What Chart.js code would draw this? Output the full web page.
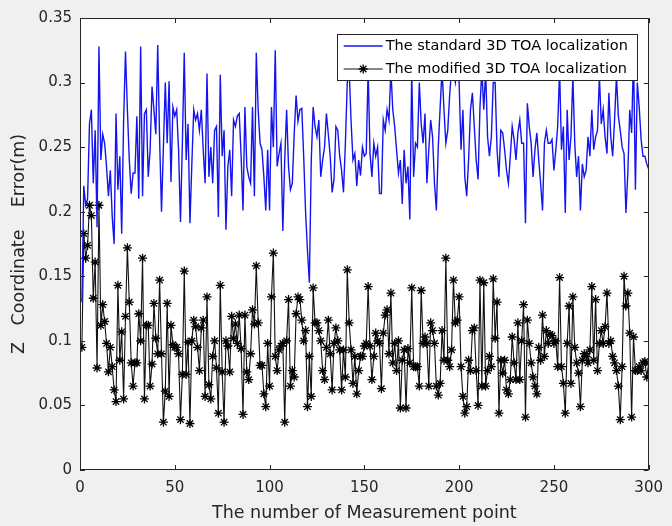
<!DOCTYPE html>
<html>
<head>
<meta charset="utf-8">
<script src="https://cdn.jsdelivr.net/npm/chart.js@4.4.1/dist/chart.umd.min.js"></script>
<style>
  html, body { margin: 0; padding: 0; background: #f0f0f0; }
  canvas { display: block; }
</style>
</head>
<body>
<canvas id="c" width="672" height="526"></canvas>
<script>
// ---------- data ----------
const seriesNames = ['The standard 3D TOA localization', 'The modified 3D TOA localization'];
const xTitle = 'The number of Measurement point';
const yTitle = 'Z   Coordinate    Error(m)';
const xTickValues = [0, 50, 100, 150, 200, 250, 300];
const yTickValues = [0, 0.05, 0.1, 0.15, 0.2, 0.25, 0.3, 0.35];

const standardErr = [
  0.13, 0.22, 0.205, 0.21, 0.268, 0.279, 0.222, 0.263, 0.188, 0.328, 0.24, 0.26, 0.253, 0.235, 0.212, 0.232, 0.196, 0.175, 0.276, 0.217,
  0.243, 0.183, 0.27, 0.324, 0.279, 0.24, 0.214, 0.23, 0.23, 0.274, 0.21, 0.328, 0.212, 0.276, 0.279, 0.227, 0.248, 0.297, 0.279, 0.26,
  0.329, 0.256, 0.2, 0.25, 0.3,
  0.253, 0.301, 0.223, 0.281, 0.274, 0.279, 0.248, 0.192, 0.253, 0.323, 0.24, 0.268, 0.191, 0.237, 0.279, 0.271, 0.276, 0.263, 0.279, 0.248,
  0.222, 0.307, 0.227, 0.25, 0.222, 0.263, 0.266, 0.196, 0.306, 0.243, 0.263, 0.186, 0.235, 0.248, 0.212, 0.271, 0.266, 0.274, 0.276, 0.243,
  0.201, 0.281, 0.235, 0.227, 0.222, 0.281, 0.212, 0.323, 0.279, 0.253, 0.248, 0.227, 0.201, 0.248, 0.201,
  0.281, 0.25, 0.325, 0.235, 0.245, 0.253, 0.185, 0.24, 0.279, 0.235, 0.217, 0.222, 0.26, 0.29, 0.27, 0.279, 0.28, 0.243, 0.2, 0.17,
  0.145, 0.24, 0.281, 0.266, 0.258, 0.271, 0.227, 0.24, 0.25, 0.276, 0.26, 0.243, 0.215, 0.225, 0.266, 0.263, 0.243, 0.232, 0.215, 0.253,
  0.3, 0.31, 0.27, 0.24, 0.245, 0.22, 0.24, 0.228, 0.25,
  0.243, 0.245, 0.31, 0.245, 0.227, 0.253, 0.243, 0.25, 0.214, 0.214, 0.271, 0.263, 0.279, 0.271, 0.31, 0.279, 0.266, 0.248, 0.23, 0.24,
  0.206, 0.248, 0.222, 0.235, 0.194, 0.31, 0.227, 0.253, 0.25, 0.3, 0.268, 0.253, 0.276, 0.222, 0.248, 0.271, 0.258, 0.222, 0.201, 0.25,
  0.281, 0.31, 0.279, 0.253, 0.263, 0.29, 0.31, 0.31, 0.3,
  0.31, 0.3, 0.248, 0.279, 0.227, 0.212, 0.24, 0.279, 0.292, 0.266, 0.24, 0.225, 0.281, 0.31, 0.279, 0.31, 0.258, 0.243, 0.258, 0.3,
  0.3, 0.248, 0.227, 0.263, 0.261, 0.248, 0.232, 0.222, 0.243, 0.266, 0.256, 0.24, 0.261, 0.271, 0.253, 0.253, 0.191, 0.284, 0.266, 0.253,
  0.227, 0.248, 0.261, 0.24, 0.222, 0.201, 0.253, 0.263, 0.253, 0.253,
  0.256, 0.232, 0.248, 0.266, 0.31, 0.248, 0.266, 0.199, 0.279, 0.24, 0.258, 0.305, 0.253, 0.227, 0.243, 0.201, 0.237, 0.227, 0.232, 0.258,
  0.243, 0.279, 0.248, 0.258, 0.263, 0.305, 0.268, 0.279, 0.258, 0.245, 0.292, 0.258, 0.243, 0.271, 0.305,
  0.274, 0.263, 0.25, 0.245, 0.199, 0.23, 0.279, 0.261, 0.322, 0.217, 0.3, 0.281, 0.256, 0.243, 0.243, 0.237, 0.233
];

const modifiedErr = [
  0.095, 0.183, 0.164, 0.174, 0.205, 0.197, 0.133, 0.161, 0.079, 0.205, 0.112, 0.128, 0.115, 0.098, 0.076, 0.095, 0.08, 0.062, 0.053, 0.143,
  0.085, 0.107, 0.055, 0.119, 0.172, 0.13, 0.083, 0.065, 0.083, 0.083, 0.121, 0.1, 0.164, 0.055, 0.112, 0.112, 0.065, 0.082, 0.129, 0.102,
  0.09, 0.147, 0.09, 0.037, 0.061, 0.129, 0.057, 0.112, 0.097,
  0.095, 0.095, 0.09, 0.039, 0.074, 0.154, 0.074, 0.099, 0.036, 0.1, 0.116, 0.111, 0.095, 0.077, 0.11, 0.116, 0.057, 0.134, 0.066, 0.055,
  0.088, 0.1, 0.079, 0.044, 0.143, 0.076, 0.037, 0.1, 0.096, 0.076, 0.119, 0.102, 0.113, 0.098, 0.12, 0.094, 0.043, 0.12, 0.076, 0.07,
  0.09, 0.124, 0.113, 0.158, 0.114, 0.081, 0.081, 0.059, 0.049, 0.098, 0.065, 0.134,
  0.168, 0.088, 0.077, 0.093, 0.096, 0.098, 0.037, 0.1, 0.132, 0.065, 0.077, 0.072, 0.121, 0.134, 0.132, 0.116, 0.1, 0.108, 0.049, 0.088,
  0.057, 0.141, 0.114, 0.114, 0.108, 0.1, 0.077, 0.07, 0.095, 0.116, 0.09, 0.062, 0.098, 0.11, 0.1, 0.093, 0.062, 0.093, 0.072, 0.155,
  0.114, 0.093, 0.067, 0.088, 0.059, 0.077, 0.088,
  0.088, 0.096, 0.098, 0.142, 0.096, 0.07, 0.088, 0.106, 0.1, 0.098, 0.063, 0.106, 0.12, 0.124, 0.09, 0.137, 0.083, 0.098, 0.077, 0.1,
  0.048, 0.085, 0.093, 0.048, 0.094, 0.083, 0.141, 0.08, 0.08, 0.08, 0.065, 0.139, 0.098, 0.103, 0.098, 0.065, 0.114, 0.108, 0.098, 0.065,
  0.058, 0.067, 0.108, 0.085, 0.164, 0.085, 0.08, 0.093, 0.147, 0.114, 0.116,
  0.134, 0.08, 0.057, 0.044, 0.049, 0.085, 0.077, 0.108, 0.11, 0.077, 0.05, 0.147, 0.065, 0.145, 0.065, 0.077, 0.088, 0.08, 0.148, 0.102,
  0.13, 0.044, 0.085, 0.075, 0.085, 0.062, 0.059, 0.07, 0.103, 0.083, 0.07, 0.114, 0.07, 0.1, 0.128, 0.041, 0.116, 0.098, 0.083, 0.072,
  0.065, 0.059, 0.095, 0.085, 0.12, 0.088, 0.108, 0.098,
  0.105, 0.104, 0.098, 0.1, 0.08, 0.149, 0.08, 0.067, 0.044, 0.098, 0.127, 0.067, 0.134, 0.095, 0.083, 0.075, 0.049, 0.085, 0.09, 0.088,
  0.083, 0.093, 0.142, 0.085, 0.132, 0.077, 0.098, 0.108, 0.098, 0.111, 0.137, 0.098, 0.1, 0.088, 0.083, 0.077, 0.065, 0.039, 0.08, 0.15,
  0.127, 0.137, 0.106, 0.041, 0.103, 0.077, 0.077, 0.08, 0.077, 0.083, 0.084, 0.072, 0.083
];

const measurementPoints = standardErr.map((_, i) => i + 1);

// ---------- drawing ----------
const FONT = 'DejaVu Sans';
const AXIS_COLOR = '#262626';

const framePlugin = {
  id: 'frame',
  beforeDraw(chart) {
    const { ctx, chartArea: a } = chart;
    ctx.save();
    ctx.fillStyle = '#f0f0f0';
    ctx.fillRect(0, 0, chart.width, chart.height);
    ctx.fillStyle = '#ffffff';
    ctx.fillRect(a.left, a.top, a.right - a.left, a.bottom - a.top);
    ctx.restore();
  },
  afterDatasetsDraw(chart) {
    const { ctx, chartArea: a, scales } = chart;
    ctx.save();
    ctx.strokeStyle = AXIS_COLOR;
    ctx.lineWidth = 1;
    ctx.beginPath();
    ctx.rect(Math.round(a.left) + 0.5, Math.round(a.top) + 0.5,
             Math.round(a.right - a.left) - 1, Math.round(a.bottom - a.top) - 1);
    ctx.stroke();
    const tl = 5;
    ctx.beginPath();
    xTickValues.forEach(v => {
      const px = Math.round(scales.x.getPixelForValue(v)) + 0.5;
      ctx.moveTo(px, a.bottom); ctx.lineTo(px, a.bottom - tl);
      ctx.moveTo(px, a.top); ctx.lineTo(px, a.top + tl);
    });
    yTickValues.forEach(v => {
      const py = Math.round(scales.y.getPixelForValue(v)) + 0.5;
      ctx.moveTo(a.left, py); ctx.lineTo(a.left + tl, py);
      ctx.moveTo(a.right, py); ctx.lineTo(a.right - tl, py);
    });
    ctx.stroke();

    // legend box (opaque, inside the axes, top right)
    const bw = 300, bh = 46;
    const bx = a.right - 12 - bw, by = a.top + 16;
    ctx.fillStyle = '#ffffff';
    ctx.fillRect(bx, by, bw, bh);
    ctx.strokeStyle = '#262626';
    ctx.lineWidth = 1;
    ctx.strokeRect(Math.round(bx) + 0.5, Math.round(by) + 0.5, bw, bh);
    const rows = [by + 12, by + 35];
    const ds = chart.data.datasets;
    rows.forEach((ry, k) => {
      ctx.strokeStyle = ds[k].borderColor;
      ctx.lineWidth = ds[k].borderWidth;
      ctx.beginPath();
      ctx.moveTo(bx + 7, ry); ctx.lineTo(bx + 46, ry);
      ctx.stroke();
      if (k === 1) {
        const cx = bx + 26.5, r = 4.5;
        ctx.lineWidth = 1.3;
        ctx.strokeStyle = '#000';
        ctx.beginPath();
        for (let j = 0; j < 4; j++) {
          const ang = j * Math.PI / 4;
          ctx.moveTo(cx - r * Math.cos(ang), ry - r * Math.sin(ang));
          ctx.lineTo(cx + r * Math.cos(ang), ry + r * Math.sin(ang));
        }
        ctx.stroke();
      }
      ctx.fillStyle = '#000';
      ctx.font = '14.5px "' + FONT + '"';
      ctx.textBaseline = 'middle';
      ctx.textAlign = 'left';
      ctx.fillText(seriesNames[k], bx + 49, ry + 0.5);
    });
    ctx.restore();
  }
};

new Chart(document.getElementById('c'), {
  type: 'line',
  data: {
    datasets: [
      {
        label: seriesNames[0],
        data: standardErr.map((v, i) => ({ x: measurementPoints[i], y: v })),
        borderColor: '#1414f0',
        borderWidth: 1.4,
        pointRadius: 0,
        tension: 0,
        fill: false
      },
      {
        label: seriesNames[1],
        data: modifiedErr.map((v, i) => ({ x: measurementPoints[i], y: v })),
        borderColor: '#111111',
        borderWidth: 1.1,
        pointStyle: 'star',
        pointRadius: 4.5,
        pointBorderColor: '#000000',
        pointBackgroundColor: '#000000',
        pointBorderWidth: 1.3,
        tension: 0,
        fill: false
      }
    ]
  },
  options: {
    responsive: false,
    animation: false,
    devicePixelRatio: 1,
    layout: { padding: { left: 0, right: 19, top: 18, bottom: 0 } },
    plugins: { legend: { display: false }, tooltip: { enabled: false } },
    scales: {
      x: {
        type: 'linear',
        min: 0, max: 300,
        afterBuildTicks: s => { s.ticks = xTickValues.map(v => ({ value: v })); },
        afterFit: s => { s.height = 56; },
        grid: { display: false, drawTicks: false },
        border: { display: false },
        ticks: { font: { family: FONT, size: 15 }, color: AXIS_COLOR, padding: 9, maxRotation: 0, autoSkip: false },
        title: { display: true, text: xTitle, font: { family: FONT, size: 17.5 }, color: AXIS_COLOR, padding: { top: 0, bottom: 2 } }
      },
      y: {
        type: 'linear',
        min: 0, max: 0.35,
        afterBuildTicks: s => { s.ticks = yTickValues.map(v => ({ value: v })); },
        afterFit: s => { s.width = 80; },
        grid: { display: false, drawTicks: false },
        border: { display: false },
        ticks: {
          font: { family: FONT, size: 15 }, color: AXIS_COLOR, padding: 8, autoSkip: false,
          callback: v => String(Math.round(v * 100) / 100)
        },
        title: { display: true, text: yTitle, font: { family: FONT, size: 17.5 }, color: AXIS_COLOR, padding: { top: 9, bottom: 0 } }
      }
    }
  },
  plugins: [framePlugin]
});
</script>
</body>
</html>
